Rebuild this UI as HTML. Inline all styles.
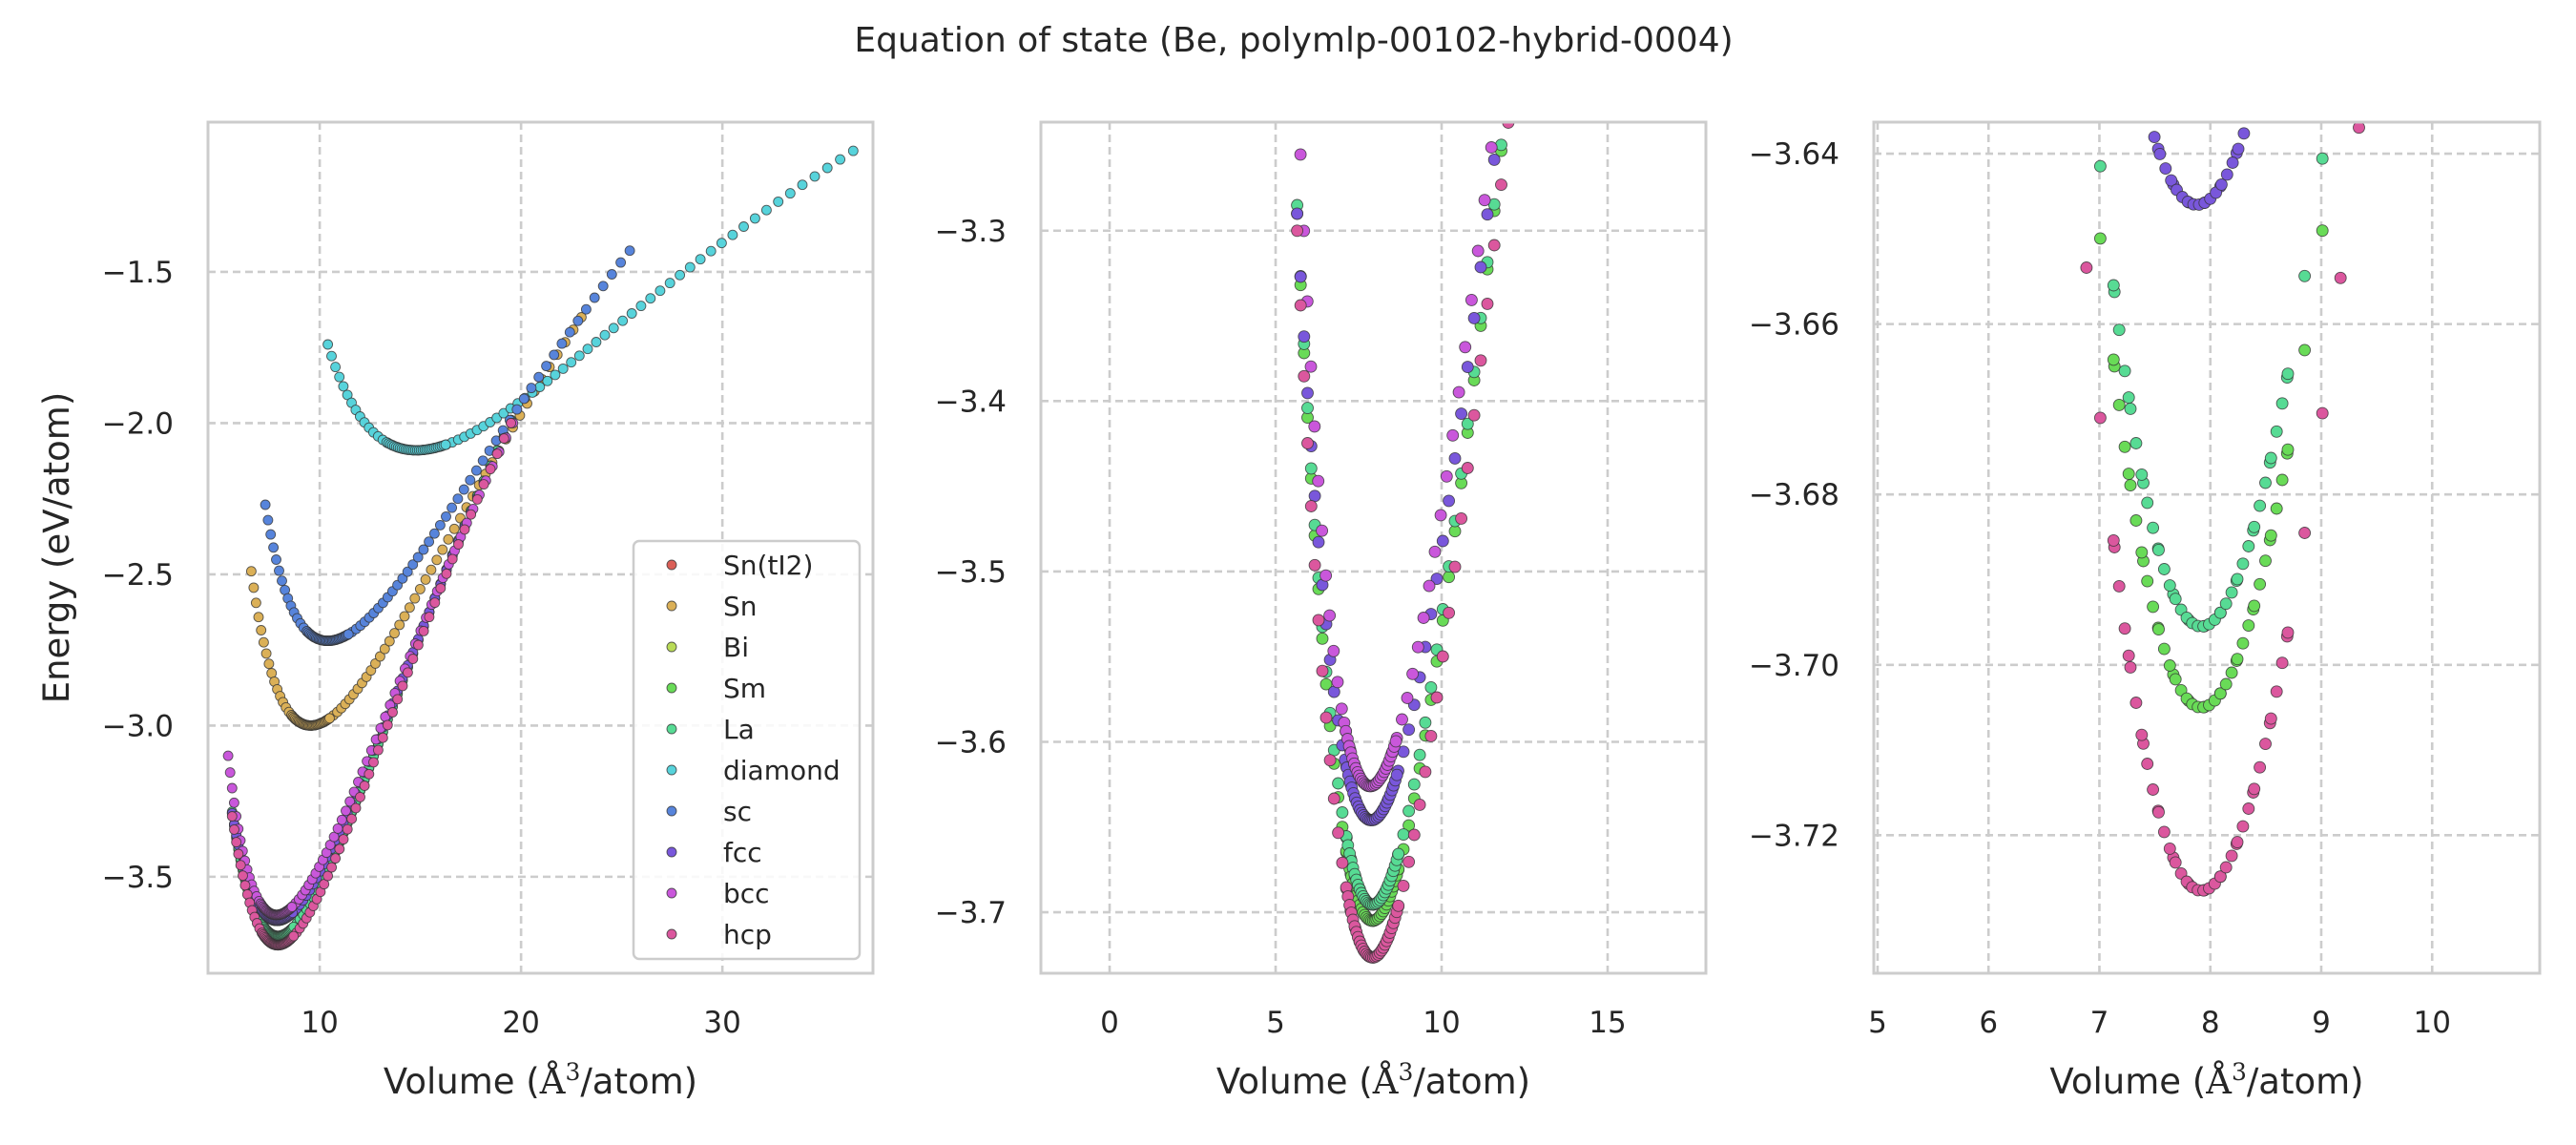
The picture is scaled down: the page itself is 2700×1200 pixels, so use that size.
<!DOCTYPE html>
<html><head><meta charset="utf-8"><style>
html,body{margin:0;padding:0;background:#fff;}
svg{display:block;font-family:"DejaVu Sans","Liberation Sans",sans-serif;}
</style></head><body>
<svg id="s" width="2700" height="1200" xmlns="http://www.w3.org/2000/svg">
<rect width="2700" height="1200" fill="#fff"/>
<text x="1356" y="54" font-size="36" fill="#262626" text-anchor="middle">Equation of state (Be, polymlp-00102-hybrid-0004)</text>
<text transform="translate(72,574) rotate(-90)" font-size="37" fill="#262626" text-anchor="middle">Energy (eV/atom)</text>
</svg>
<script>
const svg=document.getElementById('s');
const NS='http://www.w3.org/2000/svg';
function el(t,a,txt){const e=document.createElementNS(NS,t);for(const k in a)e.setAttribute(k,a[k]);if(txt!==undefined)e.textContent=txt;svg.appendChild(e);return e;}
const S=[
 {n:'Sn(tI2)',c:'#db5f57',hide:1},
 {n:'Sn',c:'#dbb057',V0:9.55,E0:-3.0,B0:0.6,L:[6.6,-2.49],R:[23.0,-1.65]},
 {n:'Bi',c:'#b9db57',hide:1},
 {n:'Sm',c:'#69db57',V0:7.92,E0:-3.705,B0:0.92,L:[5.65,-3.29],R:[19.5,-1.99]},
 {n:'La',c:'#57db94',V0:7.92,E0:-3.6955,B0:0.9,L:[5.65,-3.285],R:[19.5,-1.99]},
 {n:'diamond',c:'#57d3db',V0:14.8,E0:-2.09,B0:0.3,L:[10.4,-1.74],R:[36.5,-1.1]},
 {n:'sc',c:'#5784db',V0:10.4,E0:-2.72,B0:0.5,L:[7.3,-2.27],R:[25.4,-1.43]},
 {n:'fcc',c:'#7957db',V0:7.88,E0:-3.646,B0:0.8,L:[5.65,-3.29],R:[19.5,-2.0]},
 {n:'bcc',c:'#c957db',V0:7.85,E0:-3.626,B0:0.8,L:[5.45,-3.10],R:[19.6,-2.0]},
 {n:'hcp',c:'#db579e',V0:7.92,E0:-3.7265,B0:0.92,L:[5.65,-3.30],R:[19.5,-2.0]}
];
function bp(s,V,E){const x=Math.pow(s.V0/V,2/3),p=9*s.V0*s.B0/16;return ((E-s.E0)/p-(x-1)*(x-1)*(6-4*x))/Math.pow(x-1,3);}
function en(s,V){const x=Math.pow(s.V0/V,2/3),p=9*s.V0*s.B0/16,B=V<s.V0?s.bL:s.bR;return s.E0+p*(Math.pow(x-1,3)*B+(x-1)*(x-1)*(6-4*x));}
S.forEach(s=>{if(s.hide)return;s.bL=bp(s,s.L[0],s.L[1]);s.bR=bp(s,s.R[0],s.R[1]);
 const pts=[];const n=Math.round(Math.log(s.R[0]/s.L[0])/Math.log(1.018));const r=Math.pow(s.R[0]/s.L[0],1/n);
 for(let k=0;k<=n;k++)pts.push(s.L[0]*Math.pow(r,k));
 const a=s.V0*0.9,b=s.V0*1.1,st=s.V0*0.0064;for(let V=a;V<=b;V+=st)pts.push(V);
 s.p=pts.map(V=>[V,en(s,V)]);});
const P=[
 {l:218,r:915,t:128,b:1020,x0:4.45,x1:37.48,y0:-3.819,y1:-1.005,xt:[10,20,30],xf:v=>v,yt:[-1.5,-2,-2.5,-3,-3.5],yf:v=>v.toFixed(1)},
 {l:1091,r:1788,t:128,b:1020,x0:-2.07,x1:17.96,y0:-3.7358,y1:-3.2363,xt:[0,5,10,15],xf:v=>v,yt:[-3.3,-3.4,-3.5,-3.6,-3.7],yf:v=>v.toFixed(1)},
 {l:1964,r:2662,t:128,b:1020,x0:4.966,x1:10.97,y0:-3.7362,y1:-3.6363,xt:[5,6,7,8,9,10],xf:v=>v,yt:[-3.64,-3.66,-3.68,-3.70,-3.72],yf:v=>v.toFixed(2)}
];
P.forEach((p,i)=>{
 const X=v=>p.l+(v-p.x0)/(p.x1-p.x0)*(p.r-p.l), Y=v=>p.b-(v-p.y0)/(p.y1-p.y0)*(p.b-p.t);
 const cid='c'+i;const cp=el('clipPath',{id:cid});const cr=document.createElementNS(NS,'rect');
 cr.setAttribute('x',p.l);cr.setAttribute('y',p.t);cr.setAttribute('width',p.r-p.l);cr.setAttribute('height',p.b-p.t);cp.appendChild(cr);
 p.xt.forEach(v=>{const x=X(v);el('line',{x1:x,x2:x,y1:p.t,y2:p.b,stroke:'#cccccc','stroke-width':2.6,'stroke-dasharray':'8,5'});
  el('text',{x:x,y:1082,'font-size':31,fill:'#262626','text-anchor':'middle'},String(p.xf(v)));});
 p.yt.forEach(v=>{const y=Y(v);el('line',{x1:p.l,x2:p.r,y1:y,y2:y,stroke:'#cccccc','stroke-width':2.6,'stroke-dasharray':'8,5'});
  el('text',{x:p.l-36,y:y+11,'font-size':31,fill:'#262626','text-anchor':'end'},'\u2212'+p.yf(-v));});
 const g=el('g',{'clip-path':'url(#'+cid+')'});
 S.forEach(s=>{if(s.hide)return;s.p.forEach(q=>{const c=document.createElementNS(NS,'circle');
  c.setAttribute('cx',X(q[0]).toFixed(1));c.setAttribute('cy',Y(q[1]).toFixed(1));c.setAttribute('r',i==0?5:6);
  c.setAttribute('fill',s.c);c.setAttribute('stroke','#333');c.setAttribute('stroke-width',0.9);c.setAttribute('stroke-opacity',0.8);g.appendChild(c);});});
 el('rect',{x:p.l,y:p.t,width:p.r-p.l,height:p.b-p.t,fill:'none',stroke:'#cccccc','stroke-width':3});
 const t=el('text',{x:(p.l+p.r)/2,y:1146,'font-size':37,fill:'#262626','text-anchor':'middle'});
 t.innerHTML='Volume (<tspan font-family="DejaVu Serif,Liberation Serif,serif">Å</tspan><tspan font-family="DejaVu Serif,Liberation Serif,serif" font-size="25" dy="-14">3</tspan><tspan dy="14">/atom)</tspan>';
});
el('rect',{x:664,y:567,width:237,height:438,rx:6,fill:'#fff','fill-opacity':0.85,stroke:'#cccccc','stroke-width':2.5});
S.forEach((s,k)=>{const y=592+k*43;el('circle',{cx:704,cy:y,r:5,fill:s.c,stroke:'#333','stroke-width':0.9,'stroke-opacity':0.8});
 el('text',{x:758,y:y+10,'font-size':28,fill:'#262626'},s.n);});
</script>
</body></html>
